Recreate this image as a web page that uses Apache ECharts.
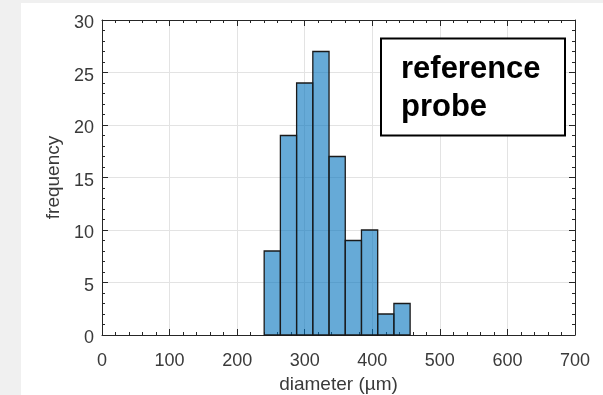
<!DOCTYPE html>
<html>
<head>
<meta charset="utf-8">
<script src="https://cdn.jsdelivr.net/npm/echarts@6/dist/echarts.min.js"></script>
<style>
html,body{margin:0;padding:0;}
#wrap{position:relative;width:603px;height:395px;background:#f0f0f0;overflow:hidden;}
#paper{position:absolute;left:21px;top:3px;width:582px;height:392px;background:#ffffff;}
#chart{position:absolute;left:0;top:0;width:603px;height:395px;}
</style>
</head>
<body>
<div id="wrap"><div id="paper"></div><div id="chart"></div></div>
<script>
// bin edges (µm) and counts per bin
const binEdges = [240, 264, 288, 312, 336, 360, 384, 408, 432, 456];
const counts = [8, 19, 24, 27, 17, 9, 10, 2, 3];
const xTicks = [0, 100, 200, 300, 400, 500, 600, 700];
const yTicks = [0, 5, 10, 15, 20, 25, 30];
const xLabel = 'diameter (µm)';
const yLabel = 'frequency';
const boxText = ['reference', 'probe'];

const data = counts.map((c, i) => [binEdges[i], binEdges[i + 1], c]);

const font = 'Liberation Sans, Arial, Helvetica, sans-serif';
const axisColor = '#262626';
const labelColor = '#3a3a3a';

const chart = echarts.init(document.getElementById('chart'), null, {renderer: 'canvas'});

function baseAxis(extra) {
  return Object.assign({
    type: 'value',
    axisLine: {show: true, onZero: false, lineStyle: {color: axisColor, width: 1}},
    axisTick: {show: true, inside: true, length: 6, lineStyle: {color: axisColor, width: 1}},
    minorTick: {show: true, splitNumber: 5, length: 3, lineStyle: {color: axisColor, width: 1}},
    splitLine: {show: false},
    axisLabel: {show: false}
  }, extra);
}

chart.setOption({
  animation: false,
  grid: {left: 102, right: 28, top: 20, bottom: 60, containLabel: false, outerBoundsMode: 'none'},
  xAxis: [
    baseAxis({
      min: xTicks[0], max: xTicks[xTicks.length - 1], interval: 100, position: 'bottom',
      splitLine: {show: true, lineStyle: {color: '#e3e3e3', width: 1}},
      axisLabel: {show: true, color: labelColor, fontSize: 18, fontFamily: font, margin: 17},
      name: xLabel, nameLocation: 'middle', nameGap: 40,
      nameTextStyle: {color: labelColor, fontSize: 19, fontFamily: font}
    }),
    baseAxis({min: xTicks[0], max: xTicks[xTicks.length - 1], interval: 100, position: 'top'})
  ],
  yAxis: [
    baseAxis({
      min: yTicks[0], max: yTicks[yTicks.length - 1], interval: 5, position: 'left',
      splitLine: {show: true, lineStyle: {color: '#e3e3e3', width: 1}},
      axisLabel: {show: true, color: labelColor, fontSize: 18, fontFamily: font, margin: 8,
                  verticalAlign: 'top', lineHeight: 7},
      name: yLabel, nameLocation: 'middle', nameGap: 38,
      nameTextStyle: {color: labelColor, fontSize: 19, fontFamily: font}
    }),
    baseAxis({min: yTicks[0], max: yTicks[yTicks.length - 1], interval: 5, position: 'right'})
  ],
  series: [{
    type: 'custom',
    xAxisIndex: 0, yAxisIndex: 0,
    data: data,
    encode: {x: [0, 1], y: 2},
    renderItem: function (params, api) {
      const p0 = api.coord([api.value(0), api.value(2)]);
      const p1 = api.coord([api.value(1), 0]);
      return {
        type: 'rect',
        shape: {x: p0[0], y: p0[1], width: p1[0] - p0[0], height: p1[1] - p0[1]},
        style: {fill: 'rgba(0,114,189,0.6)', stroke: '#1a1a1a', lineWidth: 1.3}
      };
    },
    z: 3
  }],
  graphic: [{
    type: 'rect',
    z: 100,
    shape: {x: 381, y: 38.5, width: 184, height: 97},
    style: {fill: '#ffffff', stroke: '#000000', lineWidth: 2}
  }, {
    type: 'text',
    z: 101,
    x: 401, y: 50,
    style: {
      text: boxText.join('\n'),
      font: 'bold 31px ' + font,
      fill: '#000000',
      lineHeight: 38
    }
  }]
});
</script>
</body>
</html>
